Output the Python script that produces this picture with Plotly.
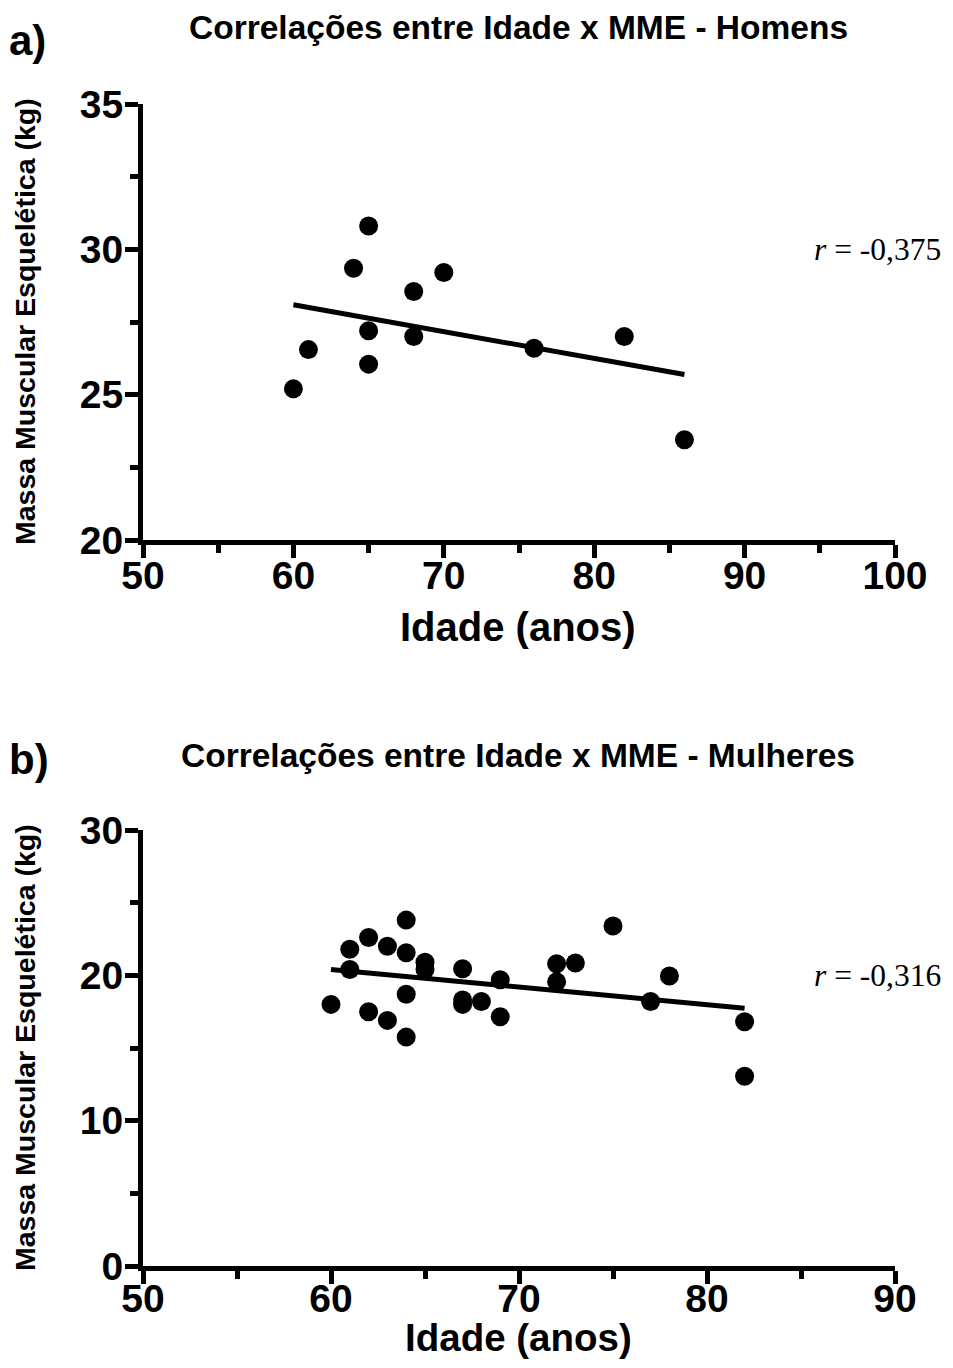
import numpy as np
import plotly.graph_objects as go

# ---- data ----
men_age = [60, 61, 64, 65, 65, 65, 68, 68, 70, 76, 82, 86]
men_mme = [25.2, 26.55, 29.35, 30.8, 27.2, 26.05, 28.55, 27.0, 29.2, 26.6, 27.0, 23.45]

women_age = [60, 61, 61, 62, 62, 63, 63, 64, 64, 64, 64, 65, 65, 67, 67, 67, 68,
             69, 69, 72, 72, 73, 75, 77, 78, 82, 82]
women_mme = [18.0, 21.8, 20.4, 22.6, 17.5, 22.0, 16.9, 23.8, 21.55, 18.7, 15.75, 20.9,
             20.4, 20.45, 18.3, 18.0, 18.2, 19.7, 17.15, 20.8, 19.55, 20.85, 23.4,
             18.2, 19.95, 16.8, 13.05]

title_men = "Correlações entre Idade x MME - Homens"
title_women = "Correlações entre Idade x MME - Mulheres"
r_men = "-0,375"
r_women = "-0,316"
xlabel = "Idade (anos)"
ylabel = "Massa Muscular Esquelética (kg)"

# page has an 8px body margin; figure sized so the page is 953x1368
OFF = 8
W, H = 953 - 2 * OFF, 1368 - 2 * OFF


def px(x):
    return (x - OFF) / W


def py(y):
    return 1 - (y - OFF) / H


def fit_line(xs, ys):
    m, b = np.polyfit(xs, ys, 1)
    x0, x1 = min(xs), max(xs)
    return [x0, x1], [m * x0 + b, m * x1 + b]


fig = go.Figure()

fig.add_trace(go.Scatter(x=men_age, y=men_mme, mode="markers",
                         marker=dict(color="black", size=19),
                         xaxis="x", yaxis="y", showlegend=False))
lx, ly = fit_line(men_age, men_mme)
fig.add_trace(go.Scatter(x=lx, y=ly, mode="lines", line=dict(color="black", width=5),
                         xaxis="x", yaxis="y", showlegend=False))

fig.add_trace(go.Scatter(x=women_age, y=women_mme, mode="markers",
                         marker=dict(color="black", size=19),
                         xaxis="x2", yaxis="y2", showlegend=False))
lx2, ly2 = fit_line(women_age, women_mme)
fig.add_trace(go.Scatter(x=lx2, y=ly2, mode="lines", line=dict(color="black", width=5),
                         xaxis="x2", yaxis="y2", showlegend=False))

tickfont = dict(family="Liberation Sans, Arial, sans-serif", size=39, color="black", weight="bold")
common = dict(showline=True, linewidth=5, linecolor="black", ticks="outside",
              ticklen=13, tickwidth=5, tickcolor="black", showgrid=False,
              zeroline=False, tickfont=tickfont, fixedrange=True, automargin=False)
xminor = dict(ticks="outside", ticklen=8, tickwidth=5, tickcolor="black", dtick=5)

xdom = [px(143), px(895)]
fig.update_layout(
    template="none",
    width=W, height=H,
    margin=dict(l=0, r=0, t=0, b=0, autoexpand=False),
    paper_bgcolor="white", plot_bgcolor="white",
    xaxis=dict(domain=xdom, range=[50, 100], dtick=10, tick0=50, anchor="y",
               minor=xminor, ticklabelstandoff=-16, **common),
    yaxis=dict(domain=[py(540), py(104)], range=[20, 35], dtick=5, tick0=20, anchor="x",
               minor=dict(ticks="outside", ticklen=8, tickwidth=5, tickcolor="black", dtick=2.5),
               ticklabelstandoff=-6, **common),
    xaxis2=dict(domain=xdom, range=[50, 90], dtick=10, tick0=50, anchor="y2",
                minor=xminor, ticklabelstandoff=-19, **common),
    yaxis2=dict(domain=[py(1266), py(830)], range=[0, 30], dtick=10, tick0=0, anchor="x2",
                minor=dict(ticks="outside", ticklen=8, tickwidth=5, tickcolor="black", dtick=5),
                ticklabelstandoff=-6, **common),
)

bold = "Liberation Sans, Arial, sans-serif"
ann = []


def add(text, x, y, size, family=bold, weight="bold", xanchor="center", angle=0):
    ann.append(dict(text=text, x=px(x), y=py(y), xref="paper", yref="paper",
                    xanchor=xanchor, yanchor="middle", showarrow=False, textangle=angle,
                    borderpad=0,
                    font=dict(family=family, size=size, color="black", weight=weight)))


add("a)", 8, 40, 42, xanchor="left")
add("b)", 8, 760, 42, xanchor="left")
add(title_men, 519, 27, 33.5)
add(title_women, 518, 755, 33.5)
add(xlabel, 518, 627, 40)
add(xlabel, 518, 1337, 38.5)
add(ylabel, 25, 322, 28.5, angle=-90)
add(ylabel, 25, 1048, 28.5, angle=-90)
add("<i>r</i> = " + r_men, 813, 250, 31.5, family="Liberation Serif, Times New Roman, serif",
    weight="normal", xanchor="left")
add("<i>r</i> = " + r_women, 813, 975, 31.5, family="Liberation Serif, Times New Roman, serif",
    weight="normal", xanchor="left")
fig.update_layout(annotations=ann)

fig.write_html("out.html")
